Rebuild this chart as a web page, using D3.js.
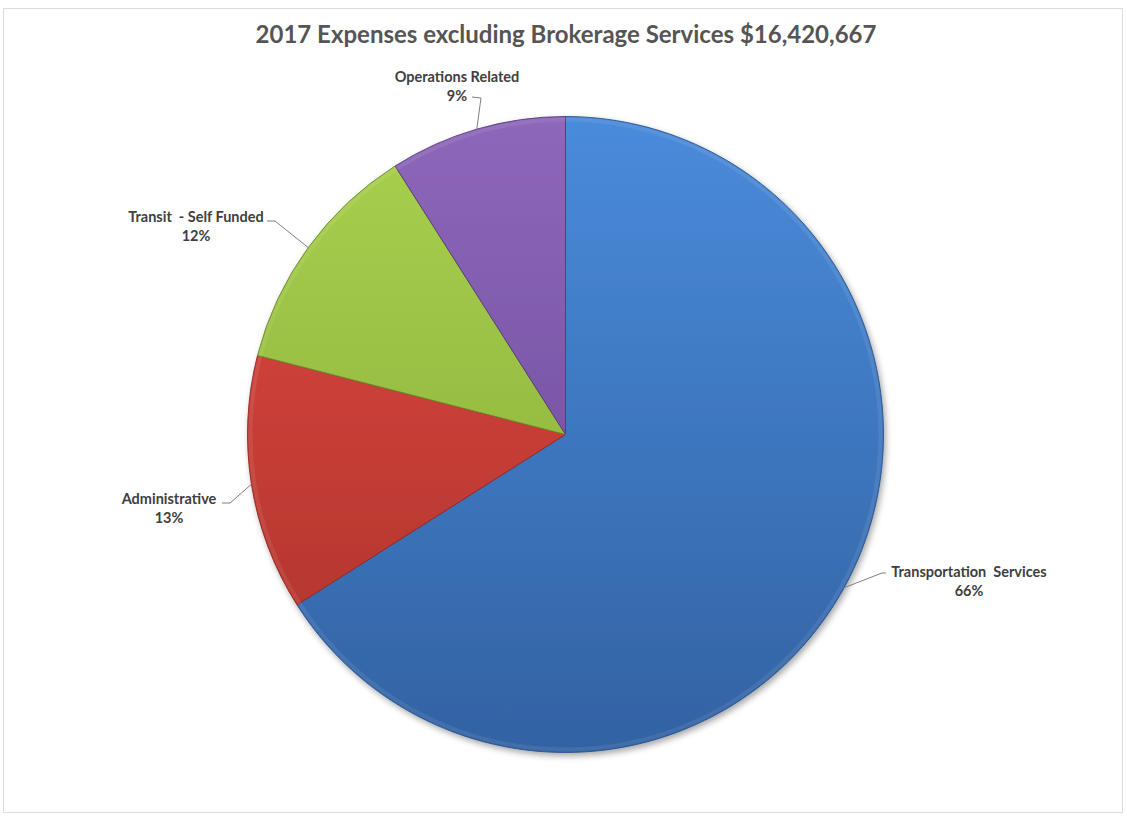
<!DOCTYPE html>
<html>
<head>
<meta charset="utf-8">
<script src="https://cdn.jsdelivr.net/npm/d3@7/dist/d3.min.js"></script>
<style>
  html, body { margin: 0; padding: 0; background: #ffffff; }
  svg { display: block; }
</style>
</head>
<body>
<svg id="chart" width="1127" height="818"></svg>
<script>
// Expense categories, in drawing order (clockwise from 12 o'clock)
const categories = ["Transportation  Services", "Administrative", "Transit  - Self Funded", "Operations Related"];
const shares = [66, 13, 12, 9];
const percentLabels = ["66%", "13%", "12%", "9%"];
const titleText = "2017 Expenses excluding Brokerage Services $16,420,667";

// Light (top) and dark (bottom) tones for each slice's shading
const lightTones = ["#4a8bdb", "#e04a42", "#a9d14e", "#8e67bb"];
const darkTones  = ["#3262a2", "#ab312b", "#84a836", "#674693"];
const edgeTones  = ["#2a5389", "#8e2823", "#6a8a2a", "#553a7a"];

const W = 1127, H = 818;
const cx = 565.5, cy = 434.5, R = 318;

const svg = d3.select("#chart");
const defs = svg.append("defs");

// Soft shadow under the pie
const shadow = defs.append("filter").attr("id", "pieShadow")
  .attr("x", "-10%").attr("y", "-10%").attr("width", "120%").attr("height", "120%");
shadow.append("feDropShadow").attr("dx", 2).attr("dy", 3)
  .attr("stdDeviation", 3).attr("flood-color", "#000").attr("flood-opacity", 0.35);

// Gradients are in the pie group's local space (centre at 0,0)
categories.forEach((c, i) => {
  const g = defs.append("linearGradient").attr("id", "grad" + i)
    .attr("gradientUnits", "userSpaceOnUse")
    .attr("x1", 0).attr("y1", -R).attr("x2", 0).attr("y2", R);
  g.append("stop").attr("offset", "0%").attr("stop-color", lightTones[i]);
  g.append("stop").attr("offset", "100%").attr("stop-color", darkTones[i]);
});

// Outer frame
svg.append("rect")
  .attr("x", 3.5).attr("y", 8.5).attr("width", W - 8).attr("height", H - 14)
  .attr("fill", "#ffffff").attr("stroke", "#dcdcdc").attr("stroke-width", 1);

// Title
svg.append("text")
  .attr("x", 566).attr("y", 43)
  .attr("text-anchor", "middle")
  .attr("font-family", "Lato, 'Open Sans', sans-serif")
  .attr("font-weight", "bold")
  .attr("font-size", 24)
  .attr("fill", "#555555")
  .text(titleText);

const pie = d3.pie().sort(null).value(d => d)
  .startAngle(0).endAngle(2 * Math.PI);
const arcs = pie(shares);

const arc = d3.arc().innerRadius(0).outerRadius(R);
const bevel = d3.arc().innerRadius(R - 5).outerRadius(R - 1);

const pieG = svg.append("g").attr("transform", `translate(${cx},${cy})`);

pieG.append("g").attr("filter", "url(#pieShadow)")
  .selectAll("path").data(arcs).join("path")
  .attr("d", arc)
  .attr("fill", (d, i) => `url(#grad${i})`)
  .attr("stroke", (d, i) => edgeTones[i])
  .attr("stroke-width", 0.9)
  .attr("stroke-linejoin", "round");

// Subtle rim highlight along each slice's outer edge
pieG.append("g").selectAll("path").data(arcs).join("path")
  .attr("d", bevel)
  .attr("fill", "#ffffff")
  .attr("opacity", 0.08);

// Leader lines and labels
const labelFont = "Lato, 'Open Sans', sans-serif";
const pointAt = (a, r) => [Math.sin(a) * r, -Math.cos(a) * r];

// label centre / first baseline and leader elbow, in page coordinates
const labelLayout = [
  { lx: 969, ly: 577, ex: 882, ey: 573, side: "right" },
  { lx: 169, ly: 504, ex: 230, ey: 503, side: "left" },
  { lx: 196, ly: 222, ex: 275, ey: 221, side: "left" },
  { lx: 457, ly: 82,  ex: 480, ey: 100, side: "top" }
];

const labels = svg.append("g");
arcs.forEach((d, i) => {
  const mid = (d.startAngle + d.endAngle) / 2;
  const [px, py] = pointAt(mid, R);
  const L = labelLayout[i];
  let pts;
  if (L.side === "right") pts = [[cx + px, cy + py], [L.ex, L.ey], [L.ex + 4, L.ey]];
  else if (L.side === "left") pts = [[cx + px, cy + py], [L.ex, L.ey], [L.ex - 8, L.ey]];
  else pts = [[cx + px, cy + py], [L.ex + 1, L.ey - 2], [L.ex - 8, L.ey - 3]];
  labels.append("path")
    .attr("d", d3.line()(pts))
    .attr("fill", "none").attr("stroke", "#7f7f7f").attr("stroke-width", 1);

  const t = labels.append("text")
    .attr("text-anchor", "middle")
    .attr("font-family", labelFont)
    .attr("font-weight", "bold")
    .attr("font-size", 14.5)
    .attr("fill", "#404040");
  t.append("tspan").attr("x", L.lx).attr("y", L.ly).attr("xml:space", "preserve").text(categories[i]);
  t.append("tspan").attr("x", L.lx).attr("y", L.ly + 19).text(percentLabels[i]);
});
</script>
</body>
</html>
